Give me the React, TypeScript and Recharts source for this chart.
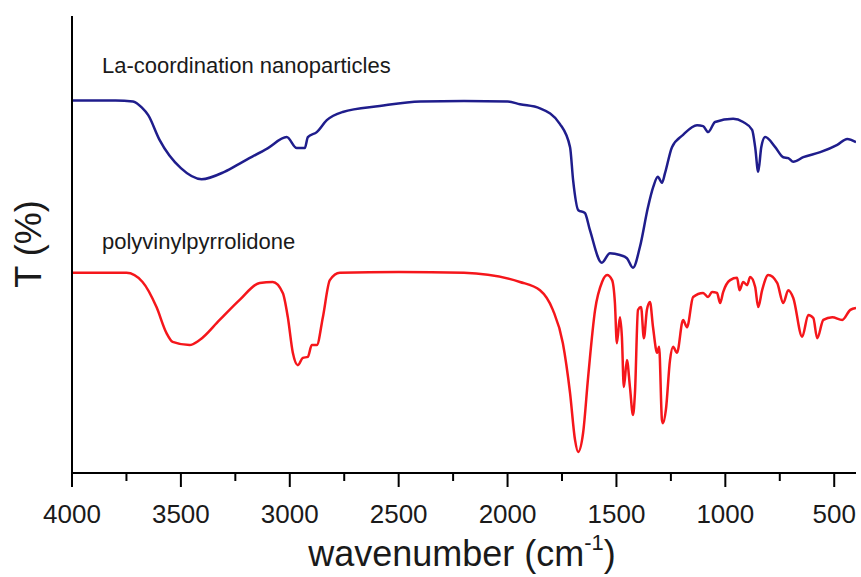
import { Label, Line, LineChart, XAxis, YAxis } from "recharts";

// La-coordination nanoparticles (upper trace)
const laWavenumber = [
  4000, 3800, 3720, 3680, 3650, 3598, 3500, 3405, 3300, 3216, 3100, 3014, 2968,
  2931, 2917, 2876, 2830, 2757, 2587, 2400, 2200, 2000, 1943, 1851, 1760, 1713,
  1699, 1675, 1645, 1622, 1567, 1530, 1484, 1452, 1424, 1392, 1355, 1331, 1310,
  1291, 1277, 1245, 1194, 1130, 1102, 1079, 1047, 964, 918, 877, 863, 849, 835,
  817, 771, 734, 711, 688, 642, 564, 486, 440, 400,
];
const laT = [
  81.5, 81.5, 81.3, 80.0, 78.3, 72.9, 66.7, 64.3, 65.9, 68.1, 71.1, 73.5, 71.1,
  71.1, 73.5, 74.6, 77.2, 79.0, 80.3, 81.3, 81.4, 81.3, 80.7, 79.8, 76.4, 71.3,
  64.1, 57.5, 56.9, 53.2, 46.0, 48.1, 47.7, 47.0, 44.9, 49.5, 58.2, 62.6, 64.8,
  63.5, 65.6, 71.3, 74.0, 76.1, 75.9, 74.6, 76.8, 77.5, 76.8, 75.1, 71.3, 65.9,
  71.3, 73.5, 71.3, 69.1, 68.9, 68.1, 69.1, 70.2, 71.8, 73.1, 72.4,
];

// polyvinylpyrrolidone (lower trace)
const pvpWavenumber = [
  4000, 3750, 3676, 3612, 3566, 3538, 3460, 3414, 3322, 3230, 3138, 3078, 3032,
  3009, 2986, 2963, 2940, 2917, 2899, 2876, 2848, 2816, 2770, 2500, 2200, 1943,
  1851, 1792, 1746, 1713, 1690, 1676, 1653, 1630, 1598, 1566, 1543, 1520, 1507,
  1498, 1484, 1475, 1466, 1452, 1438, 1424, 1415, 1401, 1387, 1374, 1360, 1346,
  1332, 1313, 1304, 1291, 1286, 1273, 1254, 1240, 1222, 1194, 1176, 1148, 1102,
  1079, 1061, 1038, 1024, 1010, 978, 946, 935, 918, 900, 886, 863, 849, 831, 803,
  762, 734, 711, 688, 647, 619, 596, 578, 550, 509, 463, 426, 400,
];
const pvpT = [
  43.8, 43.8, 41.8, 36.3, 30.6, 28.7, 28.0, 29.1, 33.5, 37.9, 41.6, 41.8, 39.4,
  34.1, 26.3, 23.6, 25.2, 25.4, 28.0, 28.0, 34.1, 42.2, 43.8, 44.0, 43.8, 41.8,
  40.0, 35.7, 28.4, 17.5, 7.2, 4.6, 8.8, 21.0, 35.7, 41.8, 43.3, 42.2, 37.2,
  28.4, 34.1, 29.8, 18.8, 24.7, 18.8, 12.7, 17.5, 35.7, 36.3, 29.5, 35.7, 37.4,
  31.9, 26.3, 27.6, 11.6, 10.9, 13.8, 24.7, 27.6, 26.3, 33.5, 31.9, 38.5, 39.4,
  38.5, 39.6, 39.4, 37.2, 39.6, 42.2, 42.7, 40.0, 41.8, 41.1, 42.9, 40.7, 36.3,
  40.0, 43.3, 41.6, 37.2, 40.0, 38.3, 29.8, 34.6, 33.9, 29.5, 33.5, 34.1, 33.5,
  35.7, 36.1,
];

const xTicks = [
  4000, 3750, 3500, 3250, 3000, 2750, 2500, 2250, 2000, 1750, 1500, 1250, 1000,
  750, 500,
];

const laData = laWavenumber.map((w, i) => ({ w, t: laT[i] }));
const pvpData = pvpWavenumber.map((w, i) => ({ w, t: pvpT[i] }));

const FONT = "'Liberation Sans', Arial, sans-serif";

function XTick(props: any) {
  const { x, y, payload } = props;
  const major = payload.value % 500 === 0;
  return (
    <g>
      <line x1={x} x2={x} y1={y} y2={y + (major ? 14 : 8)} stroke="#000" strokeWidth={2} />
      {major && (
        <text x={x} y={y + 50} textAnchor="middle" fontSize={26} fontFamily={FONT} fill="#1a1a1a">
          {payload.value}
        </text>
      )}
    </g>
  );
}

export default function App() {
  return (
    <div style={{ position: "absolute", left: 0, top: 0, width: 861, height: 577, background: "#fff" }}>
      <LineChart width={861} height={577} margin={{ top: 16, right: 5, bottom: 0, left: 0 }}>
        <XAxis
          type="number"
          dataKey="w"
          domain={[400, 4000]}
          reversed
          ticks={xTicks}
          interval={0}
          height={104}
          tickSize={0}
          tickMargin={0}
          tick={<XTick />}
          axisLine={{ stroke: "#000", strokeWidth: 2 }}
          allowDataOverflow
        >
          <Label
            content={() => (
              <g fontFamily={FONT} fill="#1a1a1a">
                <text x={462} y={566} textAnchor="middle" fontSize={36}>
                  wavenumber (cm
                  <tspan fontSize={22} dy={-16}>-1</tspan>
                  <tspan dy={16}>)</tspan>
                </text>
                <text x={102} y={73} fontSize={22}>La-coordination nanoparticles</text>
                <text x={102} y={249} fontSize={22}>polyvinylpyrrolidone</text>
              </g>
            )}
          />
        </XAxis>
        <YAxis
          type="number"
          domain={[0, 100]}
          width={72}
          tick={false}
          tickLine={false}
          axisLine={{ stroke: "#000", strokeWidth: 2 }}
        >
          <Label
            content={() => (
              <text
                x={0}
                y={0}
                transform="translate(41 244) rotate(-90)"
                textAnchor="middle"
                fontSize={36}
                fontFamily={FONT}
                fill="#1a1a1a"
              >
                T (%)
              </text>
            )}
          />
        </YAxis>
        <Line
          data={laData}
          dataKey="t"
          type="monotone"
          stroke="#1f1d8c"
          strokeWidth={2.5}
          dot={false}
          isAnimationActive={false}
        />
        <Line
          data={pvpData}
          dataKey="t"
          type="monotone"
          stroke="#f5161b"
          strokeWidth={2.5}
          dot={false}
          isAnimationActive={false}
        />
      </LineChart>
    </div>
  );
}
